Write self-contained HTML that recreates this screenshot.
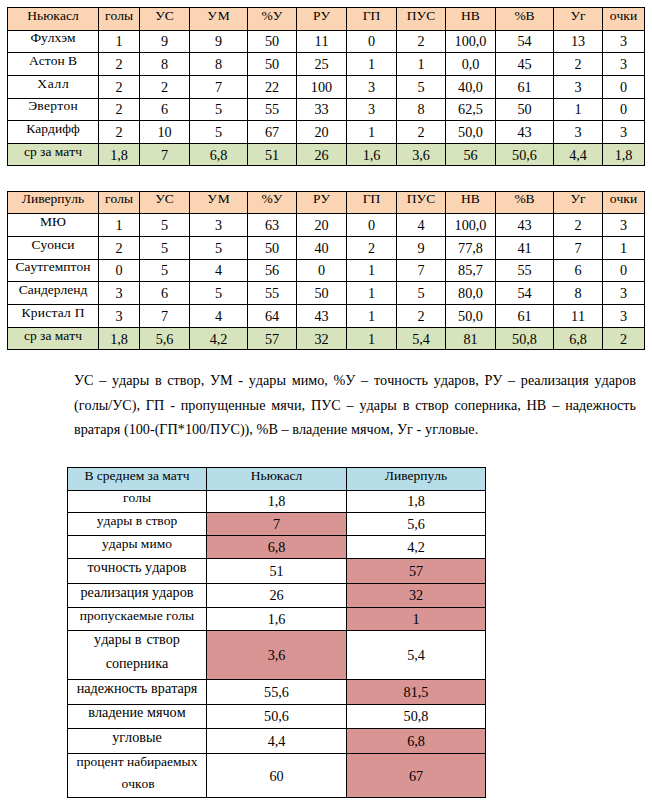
<!DOCTYPE html>
<html><head><meta charset="utf-8"><title>Сравнение</title><style>
html,body{margin:0;padding:0;background:#fff}
body{width:652px;height:803px;position:relative;overflow:hidden;font-family:"Liberation Serif",serif;color:#000;font-kerning:none}
.b{position:absolute}
.l{position:absolute;background:#000}
.t{position:absolute;white-space:nowrap;text-align:center;line-height:20px}
.pj,.pl{position:absolute;left:74px;width:562px;font-size:14.2px;line-height:20px;white-space:nowrap}
.pj{text-align:justify;text-align-last:justify;white-space:normal}
.pl{word-spacing:0.15px}
</style></head><body>
<div class="b" style="left:7px;top:7px;width:637px;height:23px;background:#FBD4B4"></div>
<div class="b" style="left:7px;top:143px;width:637px;height:22px;background:#D6E3BC"></div>
<div class="l" style="left:7px;top:7px;width:638px;height:1px"></div>
<div class="l" style="left:7px;top:30px;width:638px;height:1px"></div>
<div class="l" style="left:7px;top:52px;width:638px;height:1px"></div>
<div class="l" style="left:7px;top:75px;width:638px;height:1px"></div>
<div class="l" style="left:7px;top:98px;width:638px;height:1px"></div>
<div class="l" style="left:7px;top:120px;width:638px;height:1px"></div>
<div class="l" style="left:7px;top:143px;width:638px;height:1px"></div>
<div class="l" style="left:7px;top:165px;width:638px;height:1px"></div>
<div class="l" style="left:7px;top:7px;width:1px;height:159px"></div>
<div class="l" style="left:98px;top:7px;width:1px;height:159px"></div>
<div class="l" style="left:139px;top:7px;width:1px;height:159px"></div>
<div class="l" style="left:189px;top:7px;width:1px;height:159px"></div>
<div class="l" style="left:247px;top:7px;width:1px;height:159px"></div>
<div class="l" style="left:296px;top:7px;width:1px;height:159px"></div>
<div class="l" style="left:346px;top:7px;width:1px;height:159px"></div>
<div class="l" style="left:396px;top:7px;width:1px;height:159px"></div>
<div class="l" style="left:445px;top:7px;width:1px;height:159px"></div>
<div class="l" style="left:495px;top:7px;width:1px;height:159px"></div>
<div class="l" style="left:553px;top:7px;width:1px;height:159px"></div>
<div class="l" style="left:602px;top:7px;width:1px;height:159px"></div>
<div class="l" style="left:644px;top:7px;width:1px;height:159px"></div>
<div class="t" style="left:8px;width:90px;top:6px;font-size:13.5px">Ньюкасл</div>
<div class="t" style="left:99px;width:40px;top:6px;font-size:13.5px">голы</div>
<div class="t" style="left:140px;width:49px;top:6px;font-size:13.5px">УС</div>
<div class="t" style="left:190px;width:57px;top:6px;font-size:13.5px;letter-spacing:0.8px;text-indent:0.8px">УМ</div>
<div class="t" style="left:248px;width:48px;top:6px;font-size:13.5px">%У</div>
<div class="t" style="left:297px;width:49px;top:6px;font-size:13.5px">РУ</div>
<div class="t" style="left:347px;width:49px;top:6px;font-size:13.5px">ГП</div>
<div class="t" style="left:397px;width:48px;top:6px;font-size:13.5px">ПУС</div>
<div class="t" style="left:446px;width:49px;top:6px;font-size:13.5px">НВ</div>
<div class="t" style="left:496px;width:57px;top:6px;font-size:13.5px">%В</div>
<div class="t" style="left:554px;width:48px;top:6px;font-size:13.5px">Уг</div>
<div class="t" style="left:603px;width:41px;top:6px;font-size:13.5px">очки</div>
<div class="t" style="left:8px;width:90px;top:28px;font-size:13.5px">Фулхэм</div>
<div class="t" style="left:99px;width:40px;top:31px;font-size:14.2px">1</div>
<div class="t" style="left:140px;width:49px;top:31px;font-size:14.2px">9</div>
<div class="t" style="left:190px;width:57px;top:31px;font-size:14.2px">9</div>
<div class="t" style="left:248px;width:48px;top:31px;font-size:14.2px">50</div>
<div class="t" style="left:297px;width:49px;top:31px;font-size:14.2px">11</div>
<div class="t" style="left:347px;width:49px;top:31px;font-size:14.2px">0</div>
<div class="t" style="left:397px;width:48px;top:31px;font-size:14.2px">2</div>
<div class="t" style="left:446px;width:49px;top:31px;font-size:14.2px">100,0</div>
<div class="t" style="left:496px;width:57px;top:31px;font-size:14.2px">54</div>
<div class="t" style="left:554px;width:48px;top:31px;font-size:14.2px">13</div>
<div class="t" style="left:603px;width:41px;top:31px;font-size:14.2px">3</div>
<div class="t" style="left:8px;width:90px;top:51px;font-size:13.5px">Астон В</div>
<div class="t" style="left:99px;width:40px;top:54px;font-size:14.2px">2</div>
<div class="t" style="left:140px;width:49px;top:54px;font-size:14.2px">8</div>
<div class="t" style="left:190px;width:57px;top:54px;font-size:14.2px">8</div>
<div class="t" style="left:248px;width:48px;top:54px;font-size:14.2px">50</div>
<div class="t" style="left:297px;width:49px;top:54px;font-size:14.2px">25</div>
<div class="t" style="left:347px;width:49px;top:54px;font-size:14.2px">1</div>
<div class="t" style="left:397px;width:48px;top:54px;font-size:14.2px">1</div>
<div class="t" style="left:446px;width:49px;top:54px;font-size:14.2px">0,0</div>
<div class="t" style="left:496px;width:57px;top:54px;font-size:14.2px">45</div>
<div class="t" style="left:554px;width:48px;top:54px;font-size:14.2px">2</div>
<div class="t" style="left:603px;width:41px;top:54px;font-size:14.2px">3</div>
<div class="t" style="left:8px;width:90px;top:74px;font-size:13.5px;letter-spacing:0.7px;text-indent:0.7px">Халл</div>
<div class="t" style="left:99px;width:40px;top:77px;font-size:14.2px">2</div>
<div class="t" style="left:140px;width:49px;top:77px;font-size:14.2px">2</div>
<div class="t" style="left:190px;width:57px;top:77px;font-size:14.2px">7</div>
<div class="t" style="left:248px;width:48px;top:77px;font-size:14.2px">22</div>
<div class="t" style="left:297px;width:49px;top:77px;font-size:14.2px">100</div>
<div class="t" style="left:347px;width:49px;top:77px;font-size:14.2px">3</div>
<div class="t" style="left:397px;width:48px;top:77px;font-size:14.2px">5</div>
<div class="t" style="left:446px;width:49px;top:77px;font-size:14.2px">40,0</div>
<div class="t" style="left:496px;width:57px;top:77px;font-size:14.2px">61</div>
<div class="t" style="left:554px;width:48px;top:77px;font-size:14.2px">3</div>
<div class="t" style="left:603px;width:41px;top:77px;font-size:14.2px">0</div>
<div class="t" style="left:8px;width:90px;top:96px;font-size:13.5px;letter-spacing:0.3px;text-indent:0.3px">Эвертон</div>
<div class="t" style="left:99px;width:40px;top:99px;font-size:14.2px">2</div>
<div class="t" style="left:140px;width:49px;top:99px;font-size:14.2px">6</div>
<div class="t" style="left:190px;width:57px;top:99px;font-size:14.2px">5</div>
<div class="t" style="left:248px;width:48px;top:99px;font-size:14.2px">55</div>
<div class="t" style="left:297px;width:49px;top:99px;font-size:14.2px">33</div>
<div class="t" style="left:347px;width:49px;top:99px;font-size:14.2px">3</div>
<div class="t" style="left:397px;width:48px;top:99px;font-size:14.2px">8</div>
<div class="t" style="left:446px;width:49px;top:99px;font-size:14.2px">62,5</div>
<div class="t" style="left:496px;width:57px;top:99px;font-size:14.2px">50</div>
<div class="t" style="left:554px;width:48px;top:99px;font-size:14.2px">1</div>
<div class="t" style="left:603px;width:41px;top:99px;font-size:14.2px">0</div>
<div class="t" style="left:8px;width:90px;top:119px;font-size:13.5px">Кардифф</div>
<div class="t" style="left:99px;width:40px;top:122px;font-size:14.2px">2</div>
<div class="t" style="left:140px;width:49px;top:122px;font-size:14.2px">10</div>
<div class="t" style="left:190px;width:57px;top:122px;font-size:14.2px">5</div>
<div class="t" style="left:248px;width:48px;top:122px;font-size:14.2px">67</div>
<div class="t" style="left:297px;width:49px;top:122px;font-size:14.2px">20</div>
<div class="t" style="left:347px;width:49px;top:122px;font-size:14.2px">1</div>
<div class="t" style="left:397px;width:48px;top:122px;font-size:14.2px">2</div>
<div class="t" style="left:446px;width:49px;top:122px;font-size:14.2px">50,0</div>
<div class="t" style="left:496px;width:57px;top:122px;font-size:14.2px">43</div>
<div class="t" style="left:554px;width:48px;top:122px;font-size:14.2px">3</div>
<div class="t" style="left:603px;width:41px;top:122px;font-size:14.2px">3</div>
<div class="t" style="left:8px;width:90px;top:142px;font-size:13.5px">ср за матч</div>
<div class="t" style="left:99px;width:40px;top:145px;font-size:14.2px">1,8</div>
<div class="t" style="left:140px;width:49px;top:145px;font-size:14.2px">7</div>
<div class="t" style="left:190px;width:57px;top:145px;font-size:14.2px">6,8</div>
<div class="t" style="left:248px;width:48px;top:145px;font-size:14.2px">51</div>
<div class="t" style="left:297px;width:49px;top:145px;font-size:14.2px">26</div>
<div class="t" style="left:347px;width:49px;top:145px;font-size:14.2px">1,6</div>
<div class="t" style="left:397px;width:48px;top:145px;font-size:14.2px">3,6</div>
<div class="t" style="left:446px;width:49px;top:145px;font-size:14.2px">56</div>
<div class="t" style="left:496px;width:57px;top:145px;font-size:14.2px">50,6</div>
<div class="t" style="left:554px;width:48px;top:145px;font-size:14.2px">4,4</div>
<div class="t" style="left:603px;width:41px;top:145px;font-size:14.2px">1,8</div>
<div class="b" style="left:7px;top:191px;width:637px;height:22px;background:#FBD4B4"></div>
<div class="b" style="left:7px;top:327px;width:637px;height:22px;background:#D6E3BC"></div>
<div class="l" style="left:7px;top:191px;width:638px;height:1px"></div>
<div class="l" style="left:7px;top:213px;width:638px;height:1px"></div>
<div class="l" style="left:7px;top:236px;width:638px;height:1px"></div>
<div class="l" style="left:7px;top:259px;width:638px;height:1px"></div>
<div class="l" style="left:7px;top:281px;width:638px;height:1px"></div>
<div class="l" style="left:7px;top:304px;width:638px;height:1px"></div>
<div class="l" style="left:7px;top:327px;width:638px;height:1px"></div>
<div class="l" style="left:7px;top:349px;width:638px;height:1px"></div>
<div class="l" style="left:7px;top:191px;width:1px;height:159px"></div>
<div class="l" style="left:98px;top:191px;width:1px;height:159px"></div>
<div class="l" style="left:139px;top:191px;width:1px;height:159px"></div>
<div class="l" style="left:189px;top:191px;width:1px;height:159px"></div>
<div class="l" style="left:247px;top:191px;width:1px;height:159px"></div>
<div class="l" style="left:296px;top:191px;width:1px;height:159px"></div>
<div class="l" style="left:346px;top:191px;width:1px;height:159px"></div>
<div class="l" style="left:396px;top:191px;width:1px;height:159px"></div>
<div class="l" style="left:445px;top:191px;width:1px;height:159px"></div>
<div class="l" style="left:495px;top:191px;width:1px;height:159px"></div>
<div class="l" style="left:553px;top:191px;width:1px;height:159px"></div>
<div class="l" style="left:602px;top:191px;width:1px;height:159px"></div>
<div class="l" style="left:644px;top:191px;width:1px;height:159px"></div>
<div class="t" style="left:8px;width:90px;top:189px;font-size:13.5px">Ливерпуль</div>
<div class="t" style="left:99px;width:40px;top:189px;font-size:13.5px">голы</div>
<div class="t" style="left:140px;width:49px;top:189px;font-size:13.5px">УС</div>
<div class="t" style="left:190px;width:57px;top:189px;font-size:13.5px;letter-spacing:0.8px;text-indent:0.8px">УМ</div>
<div class="t" style="left:248px;width:48px;top:189px;font-size:13.5px">%У</div>
<div class="t" style="left:297px;width:49px;top:189px;font-size:13.5px">РУ</div>
<div class="t" style="left:347px;width:49px;top:189px;font-size:13.5px">ГП</div>
<div class="t" style="left:397px;width:48px;top:189px;font-size:13.5px">ПУС</div>
<div class="t" style="left:446px;width:49px;top:189px;font-size:13.5px">НВ</div>
<div class="t" style="left:496px;width:57px;top:189px;font-size:13.5px">%В</div>
<div class="t" style="left:554px;width:48px;top:189px;font-size:13.5px">Уг</div>
<div class="t" style="left:603px;width:41px;top:189px;font-size:13.5px">очки</div>
<div class="t" style="left:8px;width:90px;top:212px;font-size:13.5px">МЮ</div>
<div class="t" style="left:99px;width:40px;top:215px;font-size:14.2px">1</div>
<div class="t" style="left:140px;width:49px;top:215px;font-size:14.2px">5</div>
<div class="t" style="left:190px;width:57px;top:215px;font-size:14.2px">3</div>
<div class="t" style="left:248px;width:48px;top:215px;font-size:14.2px">63</div>
<div class="t" style="left:297px;width:49px;top:215px;font-size:14.2px">20</div>
<div class="t" style="left:347px;width:49px;top:215px;font-size:14.2px">0</div>
<div class="t" style="left:397px;width:48px;top:215px;font-size:14.2px">4</div>
<div class="t" style="left:446px;width:49px;top:215px;font-size:14.2px">100,0</div>
<div class="t" style="left:496px;width:57px;top:215px;font-size:14.2px">43</div>
<div class="t" style="left:554px;width:48px;top:215px;font-size:14.2px">2</div>
<div class="t" style="left:603px;width:41px;top:215px;font-size:14.2px">3</div>
<div class="t" style="left:8px;width:90px;top:235px;font-size:13.5px">Суонси</div>
<div class="t" style="left:99px;width:40px;top:238px;font-size:14.2px">2</div>
<div class="t" style="left:140px;width:49px;top:238px;font-size:14.2px">5</div>
<div class="t" style="left:190px;width:57px;top:238px;font-size:14.2px">5</div>
<div class="t" style="left:248px;width:48px;top:238px;font-size:14.2px">50</div>
<div class="t" style="left:297px;width:49px;top:238px;font-size:14.2px">40</div>
<div class="t" style="left:347px;width:49px;top:238px;font-size:14.2px">2</div>
<div class="t" style="left:397px;width:48px;top:238px;font-size:14.2px">9</div>
<div class="t" style="left:446px;width:49px;top:238px;font-size:14.2px">77,8</div>
<div class="t" style="left:496px;width:57px;top:238px;font-size:14.2px">41</div>
<div class="t" style="left:554px;width:48px;top:238px;font-size:14.2px">7</div>
<div class="t" style="left:603px;width:41px;top:238px;font-size:14.2px">1</div>
<div class="t" style="left:8px;width:90px;top:257px;font-size:13.5px">Саутгемптон</div>
<div class="t" style="left:99px;width:40px;top:260px;font-size:14.2px">0</div>
<div class="t" style="left:140px;width:49px;top:260px;font-size:14.2px">5</div>
<div class="t" style="left:190px;width:57px;top:260px;font-size:14.2px">4</div>
<div class="t" style="left:248px;width:48px;top:260px;font-size:14.2px">56</div>
<div class="t" style="left:297px;width:49px;top:260px;font-size:14.2px">0</div>
<div class="t" style="left:347px;width:49px;top:260px;font-size:14.2px">1</div>
<div class="t" style="left:397px;width:48px;top:260px;font-size:14.2px">7</div>
<div class="t" style="left:446px;width:49px;top:260px;font-size:14.2px">85,7</div>
<div class="t" style="left:496px;width:57px;top:260px;font-size:14.2px">55</div>
<div class="t" style="left:554px;width:48px;top:260px;font-size:14.2px">6</div>
<div class="t" style="left:603px;width:41px;top:260px;font-size:14.2px">0</div>
<div class="t" style="left:8px;width:90px;top:280px;font-size:13.5px">Сандерленд</div>
<div class="t" style="left:99px;width:40px;top:283px;font-size:14.2px">3</div>
<div class="t" style="left:140px;width:49px;top:283px;font-size:14.2px">6</div>
<div class="t" style="left:190px;width:57px;top:283px;font-size:14.2px">5</div>
<div class="t" style="left:248px;width:48px;top:283px;font-size:14.2px">55</div>
<div class="t" style="left:297px;width:49px;top:283px;font-size:14.2px">50</div>
<div class="t" style="left:347px;width:49px;top:283px;font-size:14.2px">1</div>
<div class="t" style="left:397px;width:48px;top:283px;font-size:14.2px">5</div>
<div class="t" style="left:446px;width:49px;top:283px;font-size:14.2px">80,0</div>
<div class="t" style="left:496px;width:57px;top:283px;font-size:14.2px">54</div>
<div class="t" style="left:554px;width:48px;top:283px;font-size:14.2px">8</div>
<div class="t" style="left:603px;width:41px;top:283px;font-size:14.2px">3</div>
<div class="t" style="left:8px;width:90px;top:303px;font-size:13.5px;letter-spacing:0.3px;text-indent:0.3px">Кристал П</div>
<div class="t" style="left:99px;width:40px;top:306px;font-size:14.2px">3</div>
<div class="t" style="left:140px;width:49px;top:306px;font-size:14.2px">7</div>
<div class="t" style="left:190px;width:57px;top:306px;font-size:14.2px">4</div>
<div class="t" style="left:248px;width:48px;top:306px;font-size:14.2px">64</div>
<div class="t" style="left:297px;width:49px;top:306px;font-size:14.2px">43</div>
<div class="t" style="left:347px;width:49px;top:306px;font-size:14.2px">1</div>
<div class="t" style="left:397px;width:48px;top:306px;font-size:14.2px">2</div>
<div class="t" style="left:446px;width:49px;top:306px;font-size:14.2px">50,0</div>
<div class="t" style="left:496px;width:57px;top:306px;font-size:14.2px">61</div>
<div class="t" style="left:554px;width:48px;top:306px;font-size:14.2px">11</div>
<div class="t" style="left:603px;width:41px;top:306px;font-size:14.2px">3</div>
<div class="t" style="left:8px;width:90px;top:326px;font-size:13.5px">ср за матч</div>
<div class="t" style="left:99px;width:40px;top:329px;font-size:14.2px">1,8</div>
<div class="t" style="left:140px;width:49px;top:329px;font-size:14.2px">5,6</div>
<div class="t" style="left:190px;width:57px;top:329px;font-size:14.2px">4,2</div>
<div class="t" style="left:248px;width:48px;top:329px;font-size:14.2px">57</div>
<div class="t" style="left:297px;width:49px;top:329px;font-size:14.2px">32</div>
<div class="t" style="left:347px;width:49px;top:329px;font-size:14.2px">1</div>
<div class="t" style="left:397px;width:48px;top:329px;font-size:14.2px">5,4</div>
<div class="t" style="left:446px;width:49px;top:329px;font-size:14.2px">81</div>
<div class="t" style="left:496px;width:57px;top:329px;font-size:14.2px">50,8</div>
<div class="t" style="left:554px;width:48px;top:329px;font-size:14.2px">6,8</div>
<div class="t" style="left:603px;width:41px;top:329px;font-size:14.2px">2</div>
<div class="pj" style="top:370px">УС – удары в створ, УМ - удары мимо, %У – точность ударов, РУ – реализация ударов</div>
<div class="pj" style="top:395px">(голы/УС), ГП - пропущенные мячи, ПУС – удары в створ соперника, НВ – надежность</div>
<div class="pl" style="top:419px">вратаря (100-(ГП*100/ПУС)), %В – владение мячом, Уг - угловые.</div>
<div class="b" style="left:67px;top:467px;width:418px;height:23px;background:#B6DDE8"></div>
<div class="b" style="left:206px;top:512px;width:140px;height:23px;background:#D99594"></div>
<div class="b" style="left:206px;top:535px;width:140px;height:23px;background:#D99594"></div>
<div class="b" style="left:346px;top:558px;width:139px;height:25px;background:#D99594"></div>
<div class="b" style="left:346px;top:583px;width:139px;height:24px;background:#D99594"></div>
<div class="b" style="left:346px;top:607px;width:139px;height:23px;background:#D99594"></div>
<div class="b" style="left:206px;top:630px;width:140px;height:49px;background:#D99594"></div>
<div class="b" style="left:346px;top:679px;width:139px;height:25px;background:#D99594"></div>
<div class="b" style="left:346px;top:728px;width:139px;height:25px;background:#D99594"></div>
<div class="b" style="left:346px;top:753px;width:139px;height:44px;background:#D99594"></div>
<div class="l" style="left:67px;top:467px;width:419px;height:1px"></div>
<div class="l" style="left:67px;top:490px;width:419px;height:1px"></div>
<div class="l" style="left:67px;top:512px;width:419px;height:1px"></div>
<div class="l" style="left:67px;top:535px;width:419px;height:1px"></div>
<div class="l" style="left:67px;top:558px;width:419px;height:1px"></div>
<div class="l" style="left:67px;top:583px;width:419px;height:1px"></div>
<div class="l" style="left:67px;top:607px;width:419px;height:1px"></div>
<div class="l" style="left:67px;top:630px;width:419px;height:1px"></div>
<div class="l" style="left:67px;top:679px;width:419px;height:1px"></div>
<div class="l" style="left:67px;top:704px;width:419px;height:1px"></div>
<div class="l" style="left:67px;top:728px;width:419px;height:1px"></div>
<div class="l" style="left:67px;top:753px;width:419px;height:1px"></div>
<div class="l" style="left:67px;top:797px;width:419px;height:1px"></div>
<div class="l" style="left:67px;top:467px;width:1px;height:331px"></div>
<div class="l" style="left:206px;top:467px;width:1px;height:331px"></div>
<div class="l" style="left:346px;top:467px;width:1px;height:331px"></div>
<div class="l" style="left:485px;top:467px;width:1px;height:331px"></div>
<div class="t" style="left:68px;width:138px;top:466px;font-size:13.5px">В среднем за матч</div>
<div class="t" style="left:207px;width:139px;top:466px;font-size:13.5px">Ньюкасл</div>
<div class="t" style="left:347px;width:138px;top:466px;font-size:13.5px">Ливерпуль</div>
<div class="t" style="left:68px;width:138px;top:488px;font-size:13.5px">голы</div>
<div class="t" style="left:207px;width:139px;top:491px;font-size:14.2px">1,8</div>
<div class="t" style="left:347px;width:138px;top:491px;font-size:14.2px">1,8</div>
<div class="t" style="left:68px;width:138px;top:511px;font-size:13.5px">удары в створ</div>
<div class="t" style="left:207px;width:139px;top:514px;font-size:14.2px">7</div>
<div class="t" style="left:347px;width:138px;top:514px;font-size:14.2px">5,6</div>
<div class="t" style="left:68px;width:138px;top:534px;font-size:13.5px">удары мимо</div>
<div class="t" style="left:207px;width:139px;top:537px;font-size:14.2px">6,8</div>
<div class="t" style="left:347px;width:138px;top:537px;font-size:14.2px">4,2</div>
<div class="t" style="left:68px;width:138px;top:557px;font-size:14.2px">точность ударов</div>
<div class="t" style="left:207px;width:139px;top:561px;font-size:14.2px">51</div>
<div class="t" style="left:347px;width:138px;top:561px;font-size:14.2px">57</div>
<div class="t" style="left:68px;width:138px;top:582px;font-size:14.2px">реализация ударов</div>
<div class="t" style="left:207px;width:139px;top:585px;font-size:14.2px">26</div>
<div class="t" style="left:347px;width:138px;top:585px;font-size:14.2px">32</div>
<div class="t" style="left:68px;width:138px;top:606px;font-size:13.5px">пропускаемые голы</div>
<div class="t" style="left:207px;width:139px;top:609px;font-size:14.2px">1,6</div>
<div class="t" style="left:347px;width:138px;top:609px;font-size:14.2px">1</div>
<div class="t" style="left:68px;width:138px;top:629px;font-size:14.2px">удары в <span style="margin-left:1.5px"></span>створ</div>
<div class="t" style="left:68px;width:138px;top:653px;font-size:14.2px">соперника</div>
<div class="t" style="left:207px;width:139px;top:645px;font-size:14.2px">3,6</div>
<div class="t" style="left:347px;width:138px;top:645px;font-size:14.2px">5,4</div>
<div class="t" style="left:68px;width:138px;top:678px;font-size:14.2px">надежность вратаря</div>
<div class="t" style="left:207px;width:139px;top:682px;font-size:14.2px">55,6</div>
<div class="t" style="left:347px;width:138px;top:682px;font-size:14.2px">81,5</div>
<div class="t" style="left:68px;width:138px;top:702px;font-size:14.2px">владение мячом</div>
<div class="t" style="left:207px;width:139px;top:706px;font-size:14.2px">50,6</div>
<div class="t" style="left:347px;width:138px;top:706px;font-size:14.2px">50,8</div>
<div class="t" style="left:68px;width:138px;top:727px;font-size:14.2px">угловые</div>
<div class="t" style="left:207px;width:139px;top:731px;font-size:14.2px">4,4</div>
<div class="t" style="left:347px;width:138px;top:731px;font-size:14.2px">6,8</div>
<div class="t" style="left:68px;width:138px;top:752px;font-size:13.5px">процент набираемых</div>
<div class="t" style="left:70px;width:136px;top:774px;font-size:13.5px">очков</div>
<div class="t" style="left:207px;width:139px;top:766px;font-size:14.2px">60</div>
<div class="t" style="left:347px;width:138px;top:766px;font-size:14.2px">67</div>
</body></html>
